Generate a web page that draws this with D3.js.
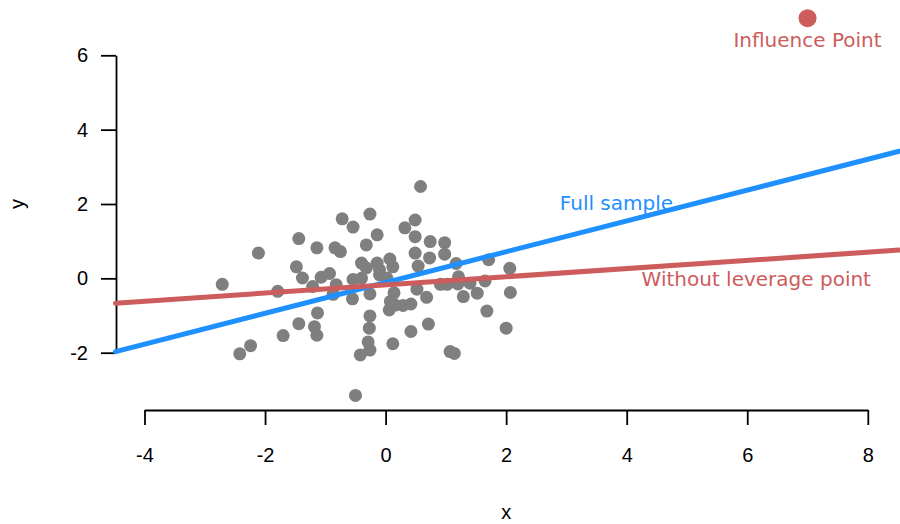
<!DOCTYPE html>
<html>
<head>
<meta charset="utf-8">
<script src="https://cdn.jsdelivr.net/npm/d3@7"></script>
<style>
  html, body { margin: 0; padding: 0; background: #fff; }
  svg { display: block; }
</style>
</head>
<body>
<svg id="chart" width="900" height="524"></svg>
<script>
// ---- data ----
const xVals = [-2.71,-2.11,-1.79,-2.42,-2.24,-1.70,-1.44,-1.48,-1.44,-1.38,
  -1.13,-1.18,-1.14,-1.21,-1.07,-0.93,-0.72,-0.54,-0.26,-0.84,
  -0.75,-1.14,-0.54,-0.40,-0.40,-0.32,-0.50,-0.42,-0.29,-0.26,
  -0.26,-0.27,-0.14,-0.32,-0.82,-0.87,-0.55,-0.26,-0.14,-0.10,
  0.02,0.07,0.12,0.14,0.08,0.06,0.16,0.29,0.42,0.52,
  0.68,0.91,1.02,1.21,1.29,0.12,0.42,0.71,1.07,1.14,
  0.58,0.49,0.32,0.49,0.74,0.98,0.49,0.73,0.98,0.54,
  1.17,1.71,2.06,1.65,1.40,1.52,2.07,1.68,2.00,1.20,-0.10];
const yVals = [-0.16,0.68,-0.35,-2.03,-1.81,-1.54,1.07,0.31,-1.22,0.01,
  -0.93,-1.30,-1.53,-0.22,0.03,0.13,1.60,1.38,1.73,0.82,
  0.72,0.82,-0.03,0.00,0.41,0.28,-3.15,-2.06,-1.71,-1.93,
  -1.01,-1.34,1.17,0.90,-0.17,-0.43,-0.55,-0.42,0.41,0.23,
  0.01,0.52,0.31,-0.39,-0.62,-0.85,-0.72,-0.73,-0.69,-0.29,
  -0.51,-0.16,-0.16,0.04,-0.49,-1.76,-1.43,-1.23,-1.97,-2.02,
  2.47,1.57,1.36,1.12,0.99,0.96,0.68,0.55,0.65,0.33,
  0.40,0.50,0.27,-0.07,-0.13,-0.40,-0.38,-0.88,-1.34,-0.15,0.09];
const influencePoint = [7, 7];
const xTicks = [-4, -2, 0, 2, 4, 6, 8];
const yTicks = [-2, 0, 2, 4, 6];
const xLimits = [-4.48, 8.52];
// regression lines: [intercept, slope]
const fullFit = [-0.113, 0.4145];
const noLevFit = [-0.177, 0.110];

// ---- scales ----
const svg = d3.select("#chart");
const x = d3.scaleLinear().domain([-4, 8]).range([144.5, 867.8]);
const y = d3.scaleLinear().domain([-2, 6]).range([352.7, 55.3]);
const tickFont = "'Liberation Sans', Arial, sans-serif";
const annFont = "'DejaVu Sans', sans-serif";

// ---- axes ----
const xAxis = svg.append("g").attr("transform", "translate(0,410)")
  .call(d3.axisBottom(x).tickValues(xTicks).tickSize(15).tickPadding(23).tickSizeOuter(0)
    .tickFormat(d3.format("d")));
xAxis.select(".domain").attr("stroke", "#000").attr("stroke-width", 1.8);
xAxis.selectAll(".tick line").attr("stroke", "#000").attr("stroke-width", 1.8);
xAxis.selectAll(".tick text").attr("font-family", tickFont).attr("font-size", 20).attr("fill", "#000");

const yAxis = svg.append("g").attr("transform", "translate(116,0)")
  .call(d3.axisLeft(y).tickValues(yTicks).tickSize(15).tickPadding(13).tickSizeOuter(0)
    .tickFormat(d3.format("d")));
yAxis.select(".domain").attr("stroke", "#000").attr("stroke-width", 1.8);
yAxis.selectAll(".tick line").attr("stroke", "#000").attr("stroke-width", 1.8);
yAxis.selectAll(".tick text").attr("font-family", tickFont).attr("font-size", 20).attr("fill", "#000");

// replace minus sign with hyphen as in R
svg.selectAll(".tick text").text(d => String(d));

svg.append("text").attr("x", (x(-4) + x(8)) / 2).attr("y", 519)
  .attr("text-anchor", "middle").attr("font-family", tickFont).attr("font-size", 20).text("x");
svg.append("text").attr("transform", "translate(24," + y(2) + ") rotate(-90)")
  .attr("text-anchor", "middle").attr("font-family", tickFont).attr("font-size", 20).text("y");

// ---- points ----
const pts = xVals.map((v, i) => [v, yVals[i]]);
svg.append("g").selectAll("circle").data(pts).join("circle")
  .attr("cx", d => x(d[0])).attr("cy", d => y(d[1])).attr("r", 6.5)
  .attr("fill", "#7f7f7f");

// ---- lines ----
function fitLine(fit, color) {
  svg.append("line")
    .attr("x1", x(xLimits[0])).attr("y1", y(fit[0] + fit[1] * xLimits[0]))
    .attr("x2", x(xLimits[1])).attr("y2", y(fit[0] + fit[1] * xLimits[1]))
    .attr("stroke", color).attr("stroke-width", 5).attr("stroke-linecap", "round");
}
fitLine(fullFit, "#1e90ff");
fitLine(noLevFit, "#cd5c5c");

// ---- influence point ----
svg.append("circle").attr("cx", x(influencePoint[0])).attr("cy", y(influencePoint[1]))
  .attr("r", 9).attr("fill", "#cd5c5c");

// ---- annotations ----
svg.append("text").attr("x", x(influencePoint[0])).attr("y", y(influencePoint[1]) + 29)
  .attr("text-anchor", "middle").attr("font-family", annFont).attr("font-size", 20)
  .attr("fill", "#cd5c5c").text("Influence Point");
svg.append("text").attr("x", x(3.83)).attr("y", y(1.84))
  .attr("text-anchor", "middle").attr("font-family", annFont).attr("font-size", 20)
  .attr("fill", "#1e90ff").text("Full sample");
svg.append("text").attr("x", x(6.15)).attr("y", y(-0.2))
  .attr("text-anchor", "middle").attr("font-family", annFont).attr("font-size", 20)
  .attr("fill", "#cd5c5c").text("Without leverage point");
</script>
</body>
</html>
